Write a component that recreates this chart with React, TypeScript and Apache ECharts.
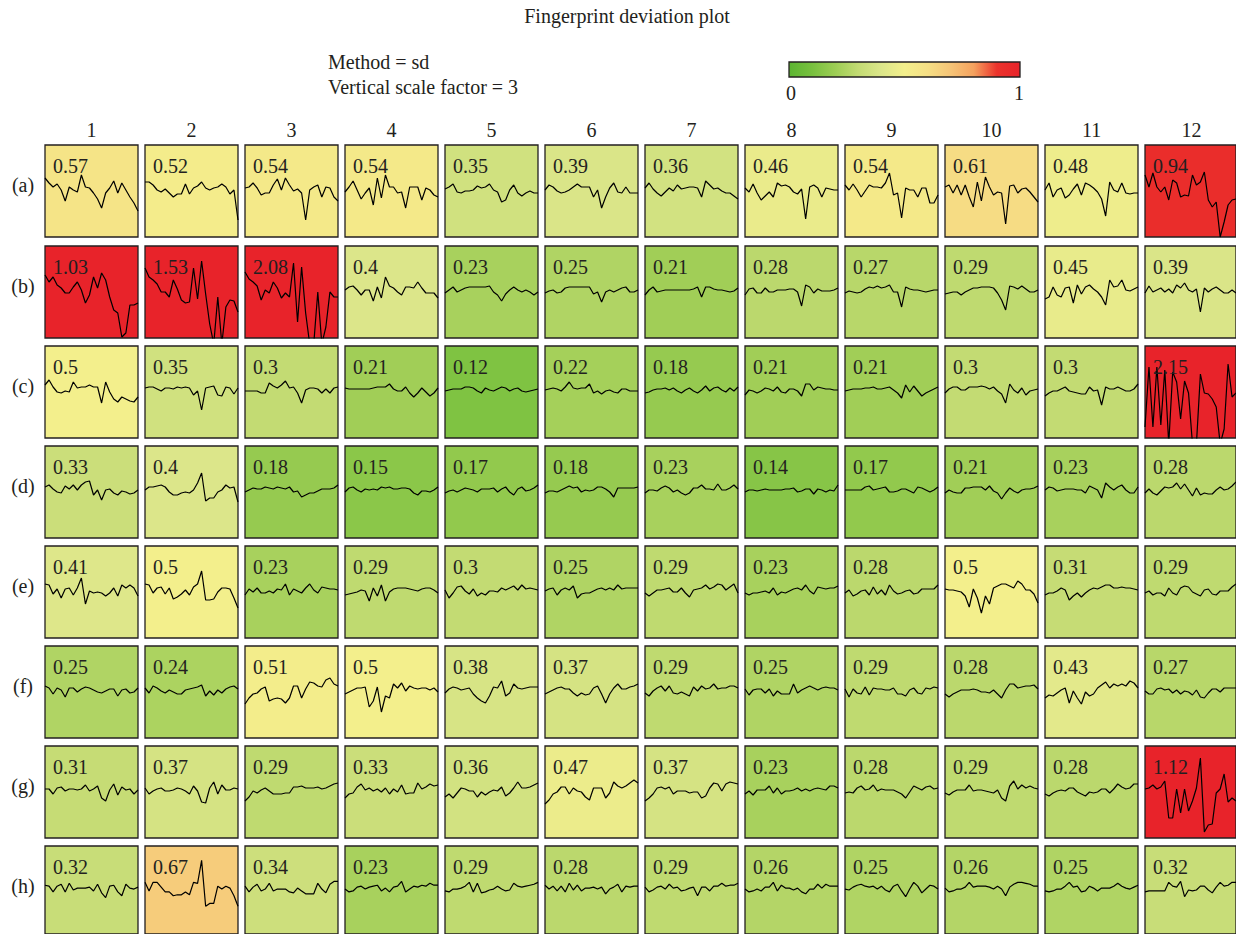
import React, { useEffect, useRef } from "react";
import * as echarts from "echarts";

const titleText = "Fingerprint deviation plot";
const methodText = "Method = sd";
const scaleText = "Vertical scale factor = 3";
const colLabels = ["1", "2", "3", "4", "5", "6", "7", "8", "9", "10", "11", "12"];
const rowLabels = ["(a)", "(b)", "(c)", "(d)", "(e)", "(f)", "(g)", "(h)"];
const scaleLabels = ["0", "1"];

// colour scale, evenly spaced from 0 to 1
const colorStops = [
  "#5cb531", "#78c03e", "#9dcd54", "#c3db73", "#dce68a", "#f3ef8c",
  "#f6df85", "#f6c477", "#f4a15e", "#eb332c", "#e8232a",
];

const devA = [0.57, 0.52, 0.54, 0.54, 0.35, 0.39, 0.36, 0.46, 0.54, 0.61, 0.48, 0.94];
const devB = [1.03, 1.53, 2.08, 0.4, 0.23, 0.25, 0.21, 0.28, 0.27, 0.29, 0.45, 0.39];
const devC = [0.5, 0.35, 0.3, 0.21, 0.12, 0.22, 0.18, 0.21, 0.21, 0.3, 0.3, 2.15];
const devD = [0.33, 0.4, 0.18, 0.15, 0.17, 0.18, 0.23, 0.14, 0.17, 0.21, 0.23, 0.28];
const devE = [0.41, 0.5, 0.23, 0.29, 0.3, 0.25, 0.29, 0.23, 0.28, 0.5, 0.31, 0.29];
const devF = [0.25, 0.24, 0.51, 0.5, 0.38, 0.37, 0.29, 0.25, 0.29, 0.28, 0.43, 0.27];
const devG = [0.31, 0.37, 0.29, 0.33, 0.36, 0.47, 0.37, 0.23, 0.28, 0.29, 0.28, 1.12];
const devH = [0.32, 0.67, 0.34, 0.23, 0.29, 0.28, 0.29, 0.26, 0.25, 0.26, 0.25, 0.32];

// fingerprint deviation traces (scaled), one array per cell
const rowA = [
  [10, 5, 1, 4, -2, -13, 1, -2, -4, 13, 1, 0, -5, -11, -20, -5, 0, 7, -5, 5, -2, -9, -15, -23],
  [6, 6, 3, -2, -4, -1, -5, -9, -6, -6, 4, -6, 0, 2, 6, 0, -2, 0, 1, 4, 1, -6, -2, -32],
  [0, 1, 5, 0, -7, -5, -5, 3, 9, -2, 10, 3, -3, -1, -5, -32, -2, 1, 3, -9, 1, 0, -9, -13],
  [-4, 1, 7, -2, -11, -5, 0, -17, 10, -10, 13, 1, 1, -5, -4, -20, 1, 1, 1, -12, 0, -2, -7, -9],
  [-1, 1, 4, -4, -5, -3, -3, -2, 2, 0, 1, 4, -2, -4, -14, -12, -2, 3, -5, -8, -5, -3, -5, -5],
  [-2, 3, 1, -3, -5, -4, -2, 1, 4, 1, 1, 1, -9, -2, -20, -9, 0, 5, -4, -5, 1, -5, -5, -5],
  [0, 5, -1, -5, -8, -4, 0, -3, 3, -1, 0, 1, 1, 0, -9, 7, 3, -1, 0, -3, -5, -5, -8, -11],
  [0, -4, 4, -5, -12, -8, -4, -9, 5, 2, 3, 1, -4, -6, -1, -31, 1, 3, 0, -9, 0, -1, -2, -2],
  [3, -2, 4, -2, -9, -3, 3, 1, 1, 0, 5, 15, -7, -5, -30, 0, -2, -2, -9, 0, 0, -15, -15, -7],
  [1, 3, -5, 3, -7, 3, -9, -19, 6, -13, 11, 1, -7, -4, -5, -36, 2, 3, -5, -1, 0, -4, -9, -14],
  [-2, 5, -9, -2, 0, -10, -7, -1, 4, -7, 5, 3, 0, -4, -11, -28, 6, -2, -4, 5, -5, -6, -5, -5],
  [13, 1, 15, 1, -4, 1, -12, 8, 5, -9, -7, -8, 13, 3, 6, 16, -12, -19, -14, -49, -34, -17, -12, -11],
];
const rowB = [
  [14, 7, 12, 4, 1, -4, -4, 2, 7, -1, -14, -6, 12, 1, 16, 9, -8, -21, -24, -48, -44, -16, -16, -14],
  [21, 12, 9, 5, -3, -3, -8, 9, 0, -11, -14, -13, 21, -10, 28, -5, -35, -55, -8, -55, -18, -11, -12, -23],
  [17, 10, 7, 3, -11, -1, -4, 7, 1, -9, -4, -8, 26, -33, 22, -24, -55, -55, -3, -55, -38, -3, -8, -8],
  [-1, 2, 3, -1, -6, -1, -1, -12, 2, -9, 12, 3, 1, -3, -6, 2, 2, 1, 7, 1, -4, -4, -4, -9],
  [-4, -1, 2, -3, -1, 1, 2, 2, 2, 2, 2, 3, -3, -6, -12, -5, -1, 2, -1, -3, -1, -3, -6, -3],
  [-4, -2, -1, -4, -3, 1, 2, 2, 2, 2, 2, 2, -5, -3, -13, -3, -1, -3, -1, 1, 2, -3, -3, -1],
  [-6, -1, 2, -3, -2, -1, -1, -1, -1, -1, -1, -1, 0, 2, -8, 2, 2, 0, -1, -1, -2, -3, -2, 1],
  [-6, 0, 1, -4, -4, 1, -3, -3, -1, -1, -1, 0, 0, -3, -17, 4, 2, -4, 0, -2, -2, -2, -1, 1],
  [-4, -2, -3, -4, -3, 0, 2, 1, 3, 1, 2, 4, -3, -3, -18, 2, 0, -1, -1, -2, -3, -2, -1, -1],
  [-5, -4, -3, -3, -6, -3, -1, 1, 1, 2, 2, 2, 1, -4, -11, -21, 3, 2, 0, 3, 0, -3, -3, -1],
  [-10, -8, 2, -6, -8, 1, 2, -14, 4, -5, 2, 4, 0, -3, -8, -16, 9, 2, 3, 9, -1, -2, 0, 2],
  [-4, 3, -3, -1, 1, -3, 0, -4, 4, 1, 6, -1, -3, 0, -23, 1, -3, 0, 2, -1, -4, -4, -1, -4],
];
const rowC = [
  [4, 9, 2, -3, -4, -2, -3, 7, 1, 2, 2, 4, 2, 2, -14, 7, -3, -10, -13, -8, -10, -12, -13, -8],
  [1, 2, 2, 0, -2, 1, 1, 0, 2, 1, 2, 1, -6, -2, -21, 1, 2, 3, -6, -7, 2, 1, -5, 1],
  [-2, -2, -2, -2, -4, -4, 6, 3, 1, 4, 8, 1, 2, -4, -14, -1, 1, 1, 0, -4, 0, -4, 1, 2],
  [1, 0, 0, 0, 0, 0, 0, 1, 2, 2, 2, 5, 0, -2, -2, 2, -4, -8, -4, 1, -3, -7, -4, 1],
  [-2, -1, 0, 0, 0, 2, 2, 1, -2, -4, 1, -1, -2, 0, 2, 1, -2, 0, 1, -2, -3, -2, -1, 0],
  [-1, 0, 1, 0, -2, 2, 7, 1, 0, 1, 1, 5, -4, -2, -5, -2, -1, -3, -4, 0, 0, -2, -2, -2],
  [-4, -3, -1, 0, 0, 1, -1, 1, -2, -4, -1, 1, -2, -4, -1, 3, -2, 1, 2, -1, -3, 1, -2, 2],
  [-6, -1, -2, -4, -2, 1, 0, -2, 2, -3, -4, 0, 0, -2, -7, 5, 5, -1, 2, 1, 0, 0, -1, -1],
  [-2, -1, 0, 0, 0, 1, 1, 2, 0, 0, 1, 2, -1, -4, -9, 4, -3, 3, -2, -7, -4, -2, 0, 2],
  [-4, 0, 2, 2, -1, -1, 2, 2, 2, 3, 2, 0, 2, -2, -5, -14, 5, -1, -4, 1, -6, -2, -1, 0],
  [-7, -4, -2, -2, 0, 2, -2, -3, -4, -5, -5, 2, -2, -1, -16, 2, 0, 0, 2, 0, -2, -2, 0, 5],
  [-38, 22, -38, 22, -36, 19, -55, 17, 7, -30, 8, -4, -55, -55, 15, -4, -5, -10, -18, -55, -40, 25, -8, -4],
];
const rowD = [
  [2, 4, 0, -3, -4, 3, 0, 4, -1, 4, 7, 8, -6, -1, -11, -1, 0, -4, -6, -2, -3, -5, -4, -1],
  [-1, 2, 2, 3, 4, 2, -3, -6, -6, -4, -3, -4, -1, 6, 16, -12, -9, -9, -3, -1, 4, 1, 2, -13],
  [-3, -1, 1, 0, 0, 2, 1, 0, 2, 1, 0, 2, -3, -2, -8, -6, -4, -4, -2, 0, 0, 0, 1, 4],
  [-3, 1, 2, -1, -3, 0, -1, 0, -1, 2, 1, 2, 0, 0, 1, 1, 0, -4, -6, -2, -2, -3, -1, 2],
  [-4, -2, -1, -3, -1, 1, 0, -1, -3, 0, 0, 0, 1, -3, 0, 2, -3, -6, 0, 2, -2, -1, 1, 4],
  [-4, -2, -2, -3, -1, 1, 3, 1, 2, -3, -1, -2, -1, 2, 2, 0, -3, -8, 1, 1, 1, 1, 1, 2],
  [-4, -1, -1, -2, 1, 3, 1, -3, -1, -4, -6, -4, 1, 1, 4, 0, 0, -1, 5, -1, -1, 1, 4, 0],
  [-3, -1, -1, -2, -1, 0, -1, -1, -1, -1, 0, 0, 1, -3, -2, 0, 0, -5, 0, -1, -3, -1, -2, 4],
  [-1, -1, -1, -1, -1, 2, 3, -1, 0, 1, 2, -3, -3, -2, 0, 0, -2, -4, 2, 1, -1, -3, -1, 2],
  [-4, -1, -3, -4, -4, 1, 1, 2, 2, 2, -1, 3, -2, -4, -10, -4, 1, -2, -4, -1, 0, 0, 1, 3],
  [-1, 2, 1, -2, -1, 0, 0, 0, -1, -1, -4, 3, 1, -1, -9, 6, 2, -1, 2, 4, -1, -4, -4, 2],
  [-4, 0, -4, -6, -2, 2, 1, 2, 6, 0, 5, -1, -7, 1, -6, -4, -5, -5, -1, 2, -1, 0, 3, 7],
];
const rowE = [
  [5, 4, -5, 0, -9, 0, 1, -6, 1, 11, -15, -2, -4, -3, -4, -7, -4, 1, -7, 4, 1, 4, 1, -7],
  [5, 4, -4, 1, 2, -5, 1, -10, -8, -5, -1, -6, 2, 5, 18, -11, -11, -10, -3, 1, 1, 0, -9, -19],
  [-6, 0, -3, 1, -4, -4, -2, -4, 0, -1, 5, -6, 0, -2, -4, 1, 5, -1, -4, 2, 1, 0, 0, -1],
  [-6, -5, -4, -3, -1, -2, -12, 1, -7, 4, -12, -3, 0, 1, 1, 1, 0, -1, -2, 0, 1, 1, -1, -4],
  [-1, -9, -4, 2, 3, -2, -5, 0, -7, -4, -6, -2, -2, -3, 1, -1, 1, 3, -1, 4, 0, 1, 0, -1],
  [-2, 0, 1, -6, -1, 1, -1, 3, -9, -5, -4, -4, -2, 0, 1, -1, 1, -1, 4, 0, 1, 1, 1, 1],
  [-4, -7, -4, -1, -1, 0, 1, -3, -3, 1, -4, -8, -1, 0, 1, 4, 0, 2, 5, 4, -1, 2, 5, -4],
  [-4, -6, -4, -4, -3, -2, -4, 1, -6, -3, -4, -2, 0, 1, -1, 4, -2, -5, 2, 1, 0, 1, 1, 3],
  [-4, -1, -7, -5, -2, -1, -6, 2, -5, -1, -6, 4, -2, -5, -4, -2, -1, -5, -4, 0, 0, 0, 0, 4],
  [0, -1, -1, -2, -3, -7, -18, 0, -9, -24, -7, -15, 1, 3, 5, 5, 3, 1, 8, 5, -1, -1, -5, -14],
  [-6, -4, -4, -2, 1, -1, -11, -7, -4, -8, -4, -1, 1, 0, 2, 4, 4, 1, 1, 2, 1, 1, 0, -1],
  [-4, -2, -6, -4, -4, -7, 1, -4, -6, 1, 3, 2, -3, -5, -7, -1, 0, -5, -6, -2, -2, -2, 2, 5],
];
const rowF = [
  [3, 1, -5, 1, -1, -8, 1, 1, -3, 0, 2, 1, -1, -3, -4, -2, 0, 0, -7, -1, 0, -4, -3, 1],
  [1, -4, 3, 1, -2, -4, -1, -3, -5, -5, -1, 0, 1, 2, 4, -7, -2, -6, -1, -4, 0, 2, 3, 0],
  [-15, -9, -5, -4, 0, 2, -12, -10, -9, -10, -14, -9, 3, 3, -9, 0, 7, 6, 3, 2, 9, 11, 5, 3],
  [-5, -3, -1, 1, 1, 2, -18, -12, 2, -23, -7, -9, 5, 1, 6, -2, 3, 1, 0, 1, 1, -1, 1, -3],
  [-4, 0, 2, 1, -1, 0, 1, -5, -9, -12, -14, -7, 2, 1, 8, -7, -4, 5, 1, 0, 1, 2, 2, 2],
  [-5, -3, -1, 1, 2, 0, 0, -4, -7, -4, -6, -5, 1, 3, -5, -14, -5, 1, 5, 0, 0, 2, 3, 5],
  [-4, -7, -2, 1, 3, -2, 3, -4, -5, -3, -5, -7, 2, -2, 3, 0, 1, 5, 0, 1, 1, 3, 3, 1],
  [0, -6, -1, 0, 0, -4, 0, -7, -2, -5, -5, -5, 5, -4, -1, 1, 3, 1, -1, 1, 2, 1, 1, -1],
  [0, -8, 0, -4, -5, 2, -6, 1, 0, 0, -1, -1, 1, -5, -5, -7, -1, 1, -4, -5, 1, 0, 2, 1],
  [-5, -8, -5, -3, -1, -1, -1, 0, -1, -3, -3, -4, -1, -5, -9, -1, 5, 5, 1, 2, 3, 3, 4, 0],
  [-9, -6, -7, -4, -1, 1, -14, -2, -9, -15, -3, -7, -5, 1, 4, 7, 1, 5, 3, 5, 3, 8, 6, 1],
  [-2, -5, -5, 0, 1, -1, 0, -4, -1, -5, -2, -3, -6, -1, -8, -9, -4, 0, 0, -3, 1, 1, 1, 1],
];
const rowG = [
  [0, 0, -5, 1, 2, -2, 0, 0, -1, 0, 4, -2, 0, 3, -9, -12, -1, 5, -6, 2, -1, 0, -5, -1],
  [1, -5, -2, 0, 1, -2, -2, -1, 1, 0, -2, -5, 3, -2, -13, -14, 1, 7, -5, 4, -1, -1, 1, 0],
  [-12, -8, -2, -4, -1, 1, -2, -5, -5, -5, -4, -4, 2, 2, 3, 1, 1, 1, 2, 0, 1, 3, 5, 6],
  [-9, -5, -4, 2, 5, -1, 1, -2, 0, -3, 1, -5, 0, -3, 4, -5, -4, -4, 6, 0, 2, 5, 3, 4],
  [-8, -5, -9, -4, 1, 0, -2, -2, -8, -3, -6, -3, -1, -2, 2, -7, -4, 1, 7, 1, 1, 2, 4, 6],
  [-15, -11, -5, -3, 2, 2, -5, 1, -2, -3, -8, -11, 1, 1, 1, -9, -4, 7, 3, 1, 3, 6, 9, 6],
  [-12, -9, -5, 1, 2, 0, 2, -5, -2, -2, -2, -4, -3, -3, -9, -7, 1, 6, 5, -2, 5, 7, 6, 5],
  [-5, -2, -6, -1, -1, -1, 3, -4, 1, -5, -2, -2, -1, 1, -2, 0, -2, 0, 1, 0, -1, 3, 3, 1],
  [-4, -3, -4, 1, 3, -1, 0, 4, -2, 0, -1, -1, -1, -3, -5, -9, -3, 3, 1, -1, 2, 3, 0, 1],
  [-4, -6, -3, -1, -1, -1, 4, -2, -1, -1, -2, -3, -4, -1, -9, -12, 3, 8, 0, 4, 1, 3, 1, 0],
  [-5, -7, -4, -2, -1, -2, 1, 1, -3, -5, -7, -3, -4, -3, 0, 0, -4, 0, 5, 2, 0, 1, 5, 5],
  [0, 1, 4, 0, 2, 8, -29, -29, 0, -24, 0, -22, -12, 1, 31, -43, -36, -35, -4, 0, 15, -13, -9, -12],
];
const rowH = [
  [2, 1, -5, 1, 3, -5, 4, -3, -1, -1, -1, 0, -4, 3, -6, -11, 1, 2, -5, -9, 3, -1, -2, 0],
  [5, -4, 5, 5, 0, -5, -5, -9, -8, -8, -5, -8, 5, 4, 28, -20, -17, -17, 1, -2, 1, -1, -9, -20],
  [1, -5, 0, 3, -4, -2, 4, -4, -2, -2, -2, -5, -6, -1, -4, -7, -7, -7, 4, -2, -6, 3, 6, 6],
  [-2, -5, -4, 0, 1, -2, 0, 1, 2, -4, -1, -5, 0, 1, 6, -5, -2, 1, 0, 2, 1, 4, 2, 2],
  [-4, -5, -2, -2, -1, 1, 5, -5, 4, -6, -5, -3, -2, 1, -2, -4, -3, 4, 1, 0, 1, 2, 3, 5],
  [2, -2, 1, -4, 1, -5, 4, -3, 2, -4, -1, -1, 0, -2, 0, -7, -2, 0, 3, -5, 1, 0, 1, 1],
  [0, -5, -3, 0, 1, -2, 3, -1, 0, -4, -3, -1, 0, -9, 0, 0, -4, 1, 1, 4, 1, 2, 2, 4],
  [-2, -5, -4, -2, -4, 0, 0, 5, -4, 2, -1, -1, -3, -1, -5, -7, -2, -2, 3, -1, 3, 1, 1, 1],
  [-2, -3, 0, 2, 3, 1, 0, 1, -2, 1, -3, -5, 1, 3, -4, -10, -2, 5, 1, -6, -2, 2, 1, -2],
  [-1, -5, -4, -2, -2, 0, 5, 0, 1, 1, 1, 0, -2, 1, -2, -9, 0, 3, 5, 5, 4, 3, 1, 1],
  [-4, -5, -4, -2, -2, 1, 5, 0, 1, -5, -4, 1, -1, -4, -1, -1, -1, 1, 4, 1, -1, -2, 0, 2],
  [-5, -4, -4, -4, -4, -4, 5, 1, 0, 6, -10, -3, -4, -3, 1, 1, -3, -6, 0, 5, 1, 2, 5, 5],
];

const deviations = [devA, devB, devC, devD, devE, devF, devG, devH];
const traces = [rowA, rowB, rowC, rowD, rowE, rowF, rowG, rowH];

const FONT = '"Liberation Serif", "Times New Roman", serif';
const INK = "#231f20";

function txt(x: number, y: number, text: string, align: string, vAlign: string) {
  return {
    type: "text",
    x,
    y,
    silent: true,
    z: 10,
    style: {
      text,
      font: `20px ${FONT}`,
      fill: INK,
      align,
      textAlign: align,
      verticalAlign: vAlign,
      textVerticalAlign: vAlign,
    },
  };
}

export default function App() {
  const ref = useRef<HTMLDivElement>(null);

  useEffect(() => {
    if (!ref.current) return;
    const chart = echarts.init(ref.current, null, { renderer: "svg" });

    const grids: any[] = [];
    const xAxes: any[] = [];
    const yAxes: any[] = [];
    const series: any[] = [];
    const graphics: any[] = [];

    const cellW = 93;
    const cellH = 92;
    const colLeft = (j: number) => 45 + 100 * j;
    const rowTop = (i: number) => 145 + 100 * i + (i > 0 ? 1 : 0);

    traces.forEach((row, i) => {
      row.forEach((vals, j) => {
        const k = i * 12 + j;
        const left = colLeft(j);
        const top = rowTop(i);
        const dev = deviations[i][j];
        grids.push({
          left,
          top,
          width: cellW,
          height: cellH,
          show: true,
          backgroundColor: echarts.color.lerp(Math.min(dev, 1), colorStops),
          borderColor: INK,
          borderWidth: 1.3,
        });
        xAxes.push({
          type: "category",
          gridIndex: k,
          data: vals.map((_, t) => String(t)),
          boundaryGap: false,
          show: false,
        });
        yAxes.push({ type: "value", gridIndex: k, min: -49, max: 43, show: false });
        series.push({
          type: "line",
          xAxisIndex: k,
          yAxisIndex: k,
          data: vals,
          symbol: "none",
          silent: true,
          clip: true,
          lineStyle: { color: "#000", width: 1.2 },
          itemStyle: { color: "#000" },
          z: 3,
        });
        graphics.push(txt(left + 8, top + 21, String(dev), "left", "middle"));
      });
    });

    colLabels.forEach((c, j) => graphics.push(txt(colLeft(j) + cellW / 2, 130, c, "center", "middle")));
    rowLabels.forEach((r, i) => graphics.push(txt(23, rowTop(i) + 40, r, "center", "middle")));

    graphics.push(txt(627, 16, titleText, "center", "middle"));
    graphics.push(txt(328, 62, methodText, "left", "middle"));
    graphics.push(txt(328, 87, scaleText, "left", "middle"));

    const barX = 789;
    const barW = 231;
    graphics.push({
      type: "rect",
      silent: true,
      shape: { x: barX, y: 62, width: barW, height: 15 },
      style: {
        fill: new echarts.graphic.LinearGradient(
          0, 0, 1, 0,
          colorStops.map((c, t) => ({ offset: t / (colorStops.length - 1), color: c }))
        ),
        stroke: INK,
        lineWidth: 1.3,
      },
    });
    graphics.push(txt(barX + 2, 93, scaleLabels[0], "center", "middle"));
    graphics.push(txt(barX + barW - 1, 93, scaleLabels[1], "center", "middle"));

    chart.setOption({
      animation: false,
      backgroundColor: "#ffffff",
      grid: grids,
      xAxis: xAxes,
      yAxis: yAxes,
      series,
      graphic: { elements: graphics },
    });

    return () => chart.dispose();
  }, []);

  return (
    <div
      ref={ref}
      style={{ position: "absolute", left: 0, top: 0, width: 1236, height: 934 }}
    />
  );
}
